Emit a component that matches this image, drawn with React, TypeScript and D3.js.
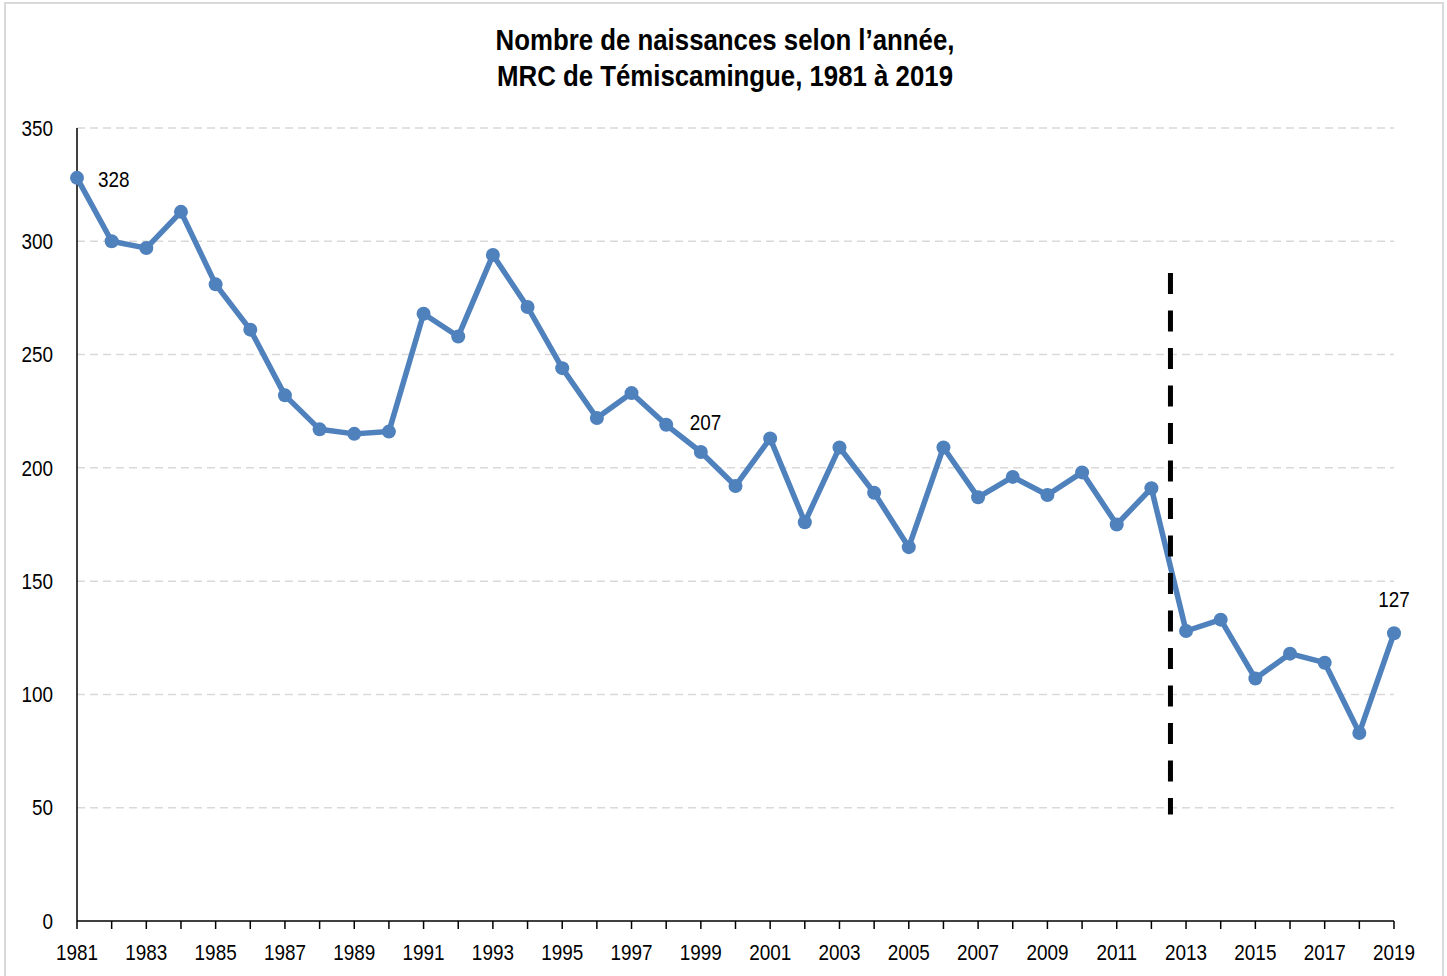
import React from "react";
import * as d3 from "d3";

// births per year
const years = [
	1981, 1982, 1983, 1984, 1985, 1986, 1987, 1988, 1989, 1990,
	1991, 1992, 1993, 1994, 1995, 1996, 1997, 1998, 1999, 2000,
	2001, 2002, 2003, 2004, 2005, 2006, 2007, 2008, 2009, 2010,
	2011, 2012, 2013, 2014, 2015, 2016, 2017, 2018, 2019,
];
const births = [
	328, 300, 297, 313, 281, 261, 232, 217, 215, 216,
	268, 258, 294, 271, 244, 222, 233, 219, 207, 192,
	213, 176, 209, 189, 165, 209, 187, 196, 188, 198,
	175, 191, 128, 133, 107, 118, 114, 83, 127,
];
const yTicks = [0, 50, 100, 150, 200, 250, 300, 350];
const xLabelYears = years.filter((y) => (y - 1981) % 2 === 0);
const labelled = [1981, 1999, 2019];
// methodological break marker (between 2012 and 2013)
const breakYear = 2012.55;
const breakRange = [47, 286];
const titleLines = ["Nombre de naissances  selon l\u2019année,", "MRC de Témiscamingue, 1981 à 2019"];

const W = 1447;
const H = 976;
const margin = { top: 128, right: 53, bottom: 55, left: 77 };
const FONT = "'Liberation Sans Narrow', 'Arial Narrow', 'Liberation Sans', Arial, sans-serif";
const BLUE = "#4f81bd";
// no narrow font installed, squeeze glyphs horizontally instead
const SQUEEZE = 0.86;

type TxtProps = {
	x: number;
	y: number;
	anchor?: "start" | "middle" | "end";
	size?: number;
	bold?: boolean;
	squeeze?: number;
	dy?: string;
	children: React.ReactNode;
};

function Txt({ x, y, anchor = "start", size = 22, bold = false, squeeze = SQUEEZE, dy, children }: TxtProps) {
	return (
		<text
			transform={`translate(${x},${y}) scale(${squeeze},1)`}
			dy={dy}
			textAnchor={anchor}
			fontSize={size}
			fontWeight={bold ? "bold" : "normal"}
			fill="#000"
		>
			{children}
		</text>
	);
}

export default function App() {
	const x = d3.scaleLinear().domain([1981, 2019]).range([margin.left, W - margin.right]);
	const y = d3.scaleLinear().domain([0, 350]).range([H - margin.bottom, margin.top]);

	const pts = years.map((yr, i) => ({ yr, v: births[i] }));
	const line = d3
		.line<{ yr: number; v: number }>()
		.x((d) => x(d.yr))
		.y((d) => y(d.v));

	const x0 = x(1981);
	const x1 = x(2019);
	const yBase = y(0);

	return (
		<svg width={W} height={H} style={{ position: "absolute", left: 0, top: 0, display: "block", background: "#fff" }} fontFamily={FONT}>
			<rect x={5} y={3} width={1438} height={980} fill="#fff" stroke="#d9d9d9" strokeWidth={2} />

			{/* title */}
			<Txt x={725} y={50} anchor="middle" size={29} squeeze={0.89} bold>
				{titleLines[0]}
			</Txt>
			<Txt x={725} y={86} anchor="middle" size={29} squeeze={0.89} bold>
				{titleLines[1]}
			</Txt>

			{/* gridlines */}
			{yTicks
				.filter((t) => t > 0)
				.map((t) => (
					<line key={t} x1={x0} x2={x1} y1={y(t)} y2={y(t)} stroke="#d9d9d9" strokeWidth={1.5} strokeDasharray="8,5" />
				))}

			{/* y axis */}
			<line x1={x0} x2={x0} y1={y(350)} y2={yBase} stroke="#000" strokeWidth={1.5} />
			{yTicks.map((t) => (
				<Txt key={t} x={53} y={y(t)} dy="0.35em" anchor="end">
					{t}
				</Txt>
			))}

			{/* x axis */}
			<line x1={x0} x2={x1} y1={yBase} y2={yBase} stroke="#000" strokeWidth={1.5} />
			{years.map((yr) => (
				<line key={yr} x1={x(yr)} x2={x(yr)} y1={yBase} y2={yBase + 8} stroke="#000" strokeWidth={1.5} />
			))}
			{xLabelYears.map((yr) => (
				<Txt key={yr} x={x(yr)} y={960} anchor="middle">
					{yr}
				</Txt>
			))}

			{/* series */}
			<path d={line(pts) ?? ""} fill="none" stroke={BLUE} strokeWidth={5.5} strokeLinejoin="round" />
			{pts.map((d) => (
				<circle key={d.yr} cx={x(d.yr)} cy={y(d.v)} r={7} fill={BLUE} />
			))}

			{/* break marker */}
			<line
				x1={x(breakYear)}
				x2={x(breakYear)}
				y1={y(breakRange[1])}
				y2={y(breakRange[0])}
				stroke="#000"
				strokeWidth={5}
				strokeDasharray="21,16.5"
			/>

			{/* data labels */}
			{pts
				.filter((d) => labelled.includes(d.yr))
				.map((d) => {
					const first = d.yr === 1981;
					const last = d.yr === 2019;
					const lx = first ? x(d.yr) + 21 : last ? x(d.yr) : x(d.yr) - 11;
					const ly = first ? y(d.v) + 9 : last ? y(d.v) - 26 : y(d.v) - 22;
					return (
						<Txt key={d.yr} x={lx} y={ly} anchor={last ? "middle" : "start"}>
							{d.v}
						</Txt>
					);
				})}
		</svg>
	);
}
